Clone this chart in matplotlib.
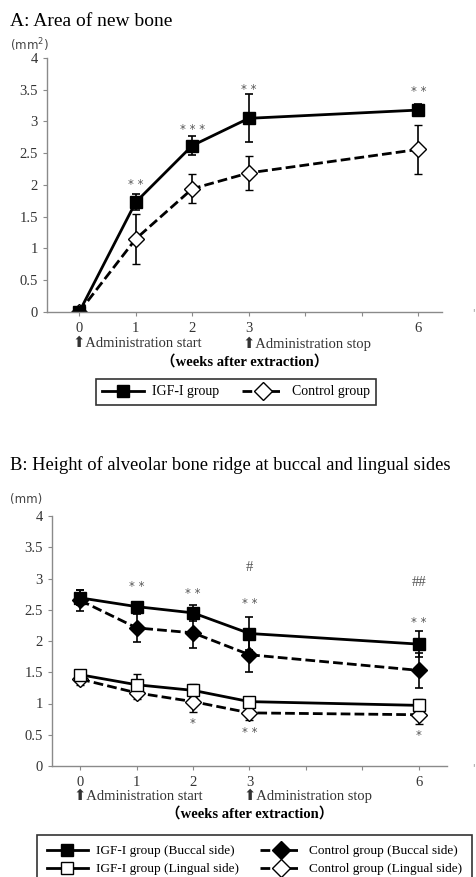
import matplotlib.pyplot as plt
from matplotlib.lines import Line2D
import numpy as np

# weeks after extraction (category slots 0..6, slots 4 and 5 empty)
weeks = [0, 1, 2, 3, 6]
tick_labels = ["0", "1", "2", "3", "", "", "6"]

# A: area of new bone (mm2)
igf_area = [0.0, 1.73, 2.62, 3.05, 3.18]
igf_area_err = [0.03, 0.13, 0.15, 0.38, 0.09]
ctl_area = [0.0, 1.15, 1.94, 2.19, 2.56]
ctl_area_err = [0.03, 0.40, 0.23, 0.27, 0.39]
sig_a = ["", "* *", "* * *", "* *", "* *"]
sig_a_y = [0, 2.0, 2.87, 3.5, 3.48]

# B: height of alveolar bone ridge (mm)
igf_bucc = [2.69, 2.55, 2.45, 2.12, 1.95]
igf_bucc_err = [0.12, 0.05, 0.13, 0.26, 0.21]
ctl_bucc = [2.65, 2.21, 2.13, 1.78, 1.53]
ctl_bucc_err = [0.17, 0.22, 0.24, 0.27, 0.28]
igf_ling = [1.46, 1.30, 1.21, 1.03, 0.97]
igf_ling_err = [0.04, 0.17, 0.10, 0.05, 0.10]
ctl_ling = [1.39, 1.17, 1.03, 0.85, 0.82]
ctl_ling_err = [0.09, 0.09, 0.17, 0.12, 0.14]
sig_b_top = ["", "* *", "* *", "* *", "* *"]
sig_b_top_y = [0, 2.88, 2.76, 2.6, 2.3]
sig_b_hash = ["", "", "", "#", "##"]
sig_b_hash_y = [0, 0, 0, 3.18, 2.93]
sig_b_low = ["", "", "*", "* *", "*"]
sig_b_low_y = [0, 0, 0.68, 0.54, 0.48]

serif = ["Liberation Serif", "DejaVu Serif"]
grey = "#8a8a8a"
txt = "#333333"
sigc = "#555555"

fig = plt.figure(figsize=(4.77, 8.77), dpi=100)


def style_axis(ax, xlim):
    ax.set_xlim(*xlim)
    ax.set_ylim(0, 4)
    ax.set_yticks(np.arange(0, 4.01, 0.5))
    ax.set_yticklabels(["0", "0.5", "1", "1.5", "2", "2.5", "3", "3.5", "4"],
                       family=serif, fontsize=10.5, color=txt)
    ax.set_xticks(range(7))
    ax.set_xticklabels(tick_labels, family=serif, fontsize=10.5, color=txt)
    for s in ["top", "right"]:
        ax.spines[s].set_visible(False)
    for s in ["left", "bottom"]:
        ax.spines[s].set_color(grey)
        ax.spines[s].set_linewidth(1.0)
    ax.tick_params(axis="both", colors=grey, length=3, width=0.8, labelcolor=txt)
    ax.tick_params(axis="x", pad=4)


def xlabels(ax, y):
    kw = dict(transform=ax.transAxes, family=["Liberation Serif", "DejaVu Sans"],
              fontsize=10.5, color=txt, va="center")
    x0 = ax.transAxes.inverted().transform(ax.transData.transform((0, 0)))[0]
    x3 = ax.transAxes.inverted().transform(ax.transData.transform((3, 0)))[0]
    ax.text(x0 - 0.015, y, "\u2b06Administration start", ha="left", **kw)
    ax.text(x3 - 0.015, y, "\u2b06Administration stop", ha="left", **kw)
    ax.text(0.5, y - 0.07, "\uff08weeks after extraction\uff09", ha="center",
            transform=ax.transAxes, family=["Liberation Serif", "Noto Sans CJK JP"],
            fontsize=10.5, fontweight="bold", color="black", va="center")


def sig(ax, w, y, s, size=8.5):
    ax.text(w, y, s, ha="center", va="center", fontsize=size, color=sigc,
            family=["DejaVu Sans"])


line_kw = dict(color="black", lw=2.0, ecolor="black", elinewidth=1.2, capsize=3, capthick=1.2)
dash = (0, (3.5, 1.5))


def handle(ls, marker, fill):
    return Line2D([], [], color="black", lw=2.0, ls=ls, marker=marker, ms=9 if marker == "D" else 8,
                  mfc=fill, mec="black", mew=1.0)


# ---- panel A
ax1 = fig.add_axes([47 / 477, 1 - 312 / 877, 395 / 477, 254 / 877])
ax1.errorbar(weeks, ctl_area, yerr=ctl_area_err, ls=dash, marker="D", ms=8,
             mfc="white", mec="black", mew=1.0, **line_kw)
ax1.errorbar(weeks, igf_area, yerr=igf_area_err, ls="-", marker="s", ms=8,
             mfc="black", mec="black", **line_kw)
style_axis(ax1, (-0.57, 6.42))
for w, s, y in zip(weeks, sig_a, sig_a_y):
    sig(ax1, w, y, s)
xlabels(ax1, -0.125)
fig.text(10 / 477, 1 - 21 / 877, "A: Area of new bone", family=serif, fontsize=14,
         va="center", ha="left")
fig.text(10 / 477, 1 - 45 / 877, "(mm$^2$)", fontsize=8.5, color="#444444",
         va="center", ha="left")
leg1 = fig.legend([handle("-", "s", "black"), handle(dash, "D", "white")],
                  ["IGF-I group", "Control group"], loc="center", ncol=2,
                  bbox_to_anchor=(236 / 477, 1 - 392 / 877), borderaxespad=0,
                  prop={"family": serif, "size": 10}, frameon=True, fancybox=False,
                  handlelength=3.0, columnspacing=1.6, borderpad=0.45, handletextpad=0.6)
leg1.get_frame().set_edgecolor("black")
leg1.get_frame().set_linewidth(1.2)

# ---- panel B
ax2 = fig.add_axes([52 / 477, 1 - 766 / 877, 395 / 477, 250 / 877])
ax2.errorbar(weeks, ctl_bucc, yerr=ctl_bucc_err, ls=dash, marker="D", ms=8,
             mfc="black", mec="black", **line_kw)
ax2.errorbar(weeks, ctl_ling, yerr=ctl_ling_err, ls=dash, marker="D", ms=8,
             mfc="white", mec="black", mew=1.0, **line_kw)
ax2.errorbar(weeks, igf_bucc, yerr=igf_bucc_err, ls="-", marker="s", ms=8,
             mfc="black", mec="black", **line_kw)
ax2.errorbar(weeks, igf_ling, yerr=igf_ling_err, ls="-", marker="s", ms=8,
             mfc="white", mec="black", mew=1.0, **line_kw)
style_axis(ax2, (-0.5, 6.5))
for w, s, y in zip(weeks, sig_b_top, sig_b_top_y):
    sig(ax2, w, y, s)
for w, s, y in zip(weeks, sig_b_hash, sig_b_hash_y):
    ax2.text(w, y, s, ha="center", va="center", fontsize=10.5, color=sigc, family=serif)
for w, s, y in zip(weeks, sig_b_low, sig_b_low_y):
    sig(ax2, w, y, s)
xlabels(ax2, -0.12)
fig.text(10 / 477, 1 - 465 / 877, "B: Height of alveolar bone ridge at buccal and lingual sides",
         family=serif, fontsize=13.3, va="center", ha="left")
fig.text(10 / 477, 1 - 499 / 877, "(mm)", fontsize=8.5, color="#444444",
         va="center", ha="left")
leg2 = fig.legend([handle("-", "s", "black"), handle("-", "s", "white"),
                   handle(dash, "D", "black"), handle(dash, "D", "white")],
                  ["IGF-I group (Buccal side)", "IGF-I group (Lingual side)",
                   "Control group (Buccal side)", "Control group (Lingual side)"],
                  loc="upper left", ncol=2, borderaxespad=0,
                  bbox_to_anchor=(37 / 477, 1 - 835 / 877),
                  prop={"family": serif, "size": 9.5}, frameon=True, fancybox=False,
                  handlelength=3.1, columnspacing=1.65, borderpad=0.75, handletextpad=0.6,
                  labelspacing=0.45)
leg2.get_frame().set_edgecolor("black")
leg2.get_frame().set_linewidth(1.2)

fig.text(473 / 477, 1 - 313 / 877, "'", color=grey, fontsize=7, ha="center", va="center")
fig.text(473 / 477, 1 - 768 / 877, "'", color=grey, fontsize=7, ha="center", va="center")

fig.savefig("out.png", dpi=100)
